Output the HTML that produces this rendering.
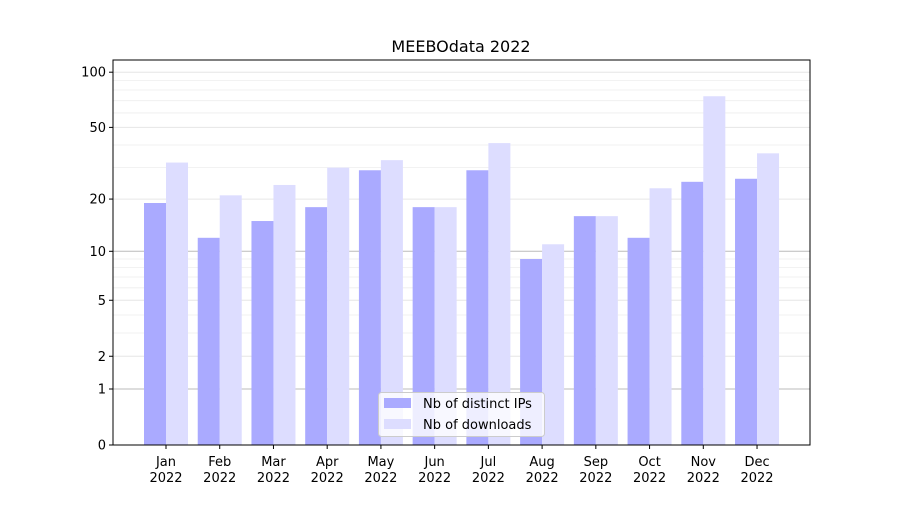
<!DOCTYPE html>
<html><head><meta charset="utf-8"><style>body{margin:0;background:#fff}svg{font-family:"DejaVu Sans","Liberation Sans",sans-serif}</style></head>
<body>
<svg id="c" width="900" height="500"></svg>
<script>
const months=["Jan","Feb","Mar","Apr","May","Jun","Jul","Aug","Sep","Oct","Nov","Dec"];
const ips=[19,12,15,18,29,18,29,9,16,12,25,26];
const downloads=[32,21,24,30,33,18,41,11,16,23,74,36];
const yTicks=[0,1,2,5,10,20,50,100];
const minorVals=[3,4,6,7,8,9,30,40,60,70,80,90];
const NS="http://www.w3.org/2000/svg";
const svg=document.getElementById('c');
const L=113,R=810,T=60,B=445;
function y(v){return B-Math.log10(v+1)*186;}
function x(i){return 166+i*53.73;}
function el(t,a,p){const e=document.createElementNS(NS,t);for(const k in a)e.setAttribute(k,a[k]);(p||svg).appendChild(e);return e;}
const title=el('text',{x:461,y:52,'text-anchor':'middle','font-size':16});title.textContent='MEEBOdata 2022';


minorVals.forEach(v=>{const l=el('line',{x1:L,x2:R,y1:y(v),y2:y(v),stroke:'#eee','stroke-width':0.8});

});
yTicks.forEach(v=>{if(v===0)return;const dark=(v===1||v===10);const l=el('line',{x1:L,x2:R,y1:y(v),y2:y(v),stroke:dark?'#bbb':'#e6e6e6','stroke-width':1});

});
months.forEach((m,i)=>{
const b1=el('rect',{x:x(i)-22,y:y(ips[i]),width:22,height:B-y(ips[i]),fill:'#aaaaff'});


const b2=el('rect',{x:x(i),y:y(downloads[i]),width:22,height:B-y(downloads[i]),fill:'#ddddff'});


el('line',{x1:x(i),x2:x(i),y1:B,y2:B+4,stroke:'#000'});
const t=el('text',{x:x(i),y:B+21,'text-anchor':'middle','font-size':13});t.textContent=m;


const t2=el('text',{x:x(i),y:B+37,'text-anchor':'middle','font-size':13});t2.textContent='2022';


});
yTicks.forEach(v=>{el('line',{x1:L-4,x2:L,y1:y(v),y2:y(v),stroke:'#000'});
const t=el('text',{x:L-7,y:y(v)+4.5,'text-anchor':'end','font-size':13});t.textContent=v;

});
const ax=el('rect',{x:L,y:T,width:R-L,height:B-T,fill:'none',stroke:'#000','stroke-width':1});


const g=el('g',{});


el('rect',{x:378.5,y:392.5,width:166,height:44,rx:3,fill:'rgba(255,255,255,0.8)',stroke:'#ccc'},g);
el('rect',{x:384,y:398,width:27,height:10,fill:'#aaaaff'},g);
el('rect',{x:384,y:419,width:27,height:10,fill:'#ddddff'},g);
const l1=el('text',{x:423,y:408,'font-size':13},g);l1.textContent='Nb of distinct IPs';
const l2=el('text',{x:423,y:429,'font-size':13},g);l2.textContent='Nb of downloads';
</script>
</body></html>
